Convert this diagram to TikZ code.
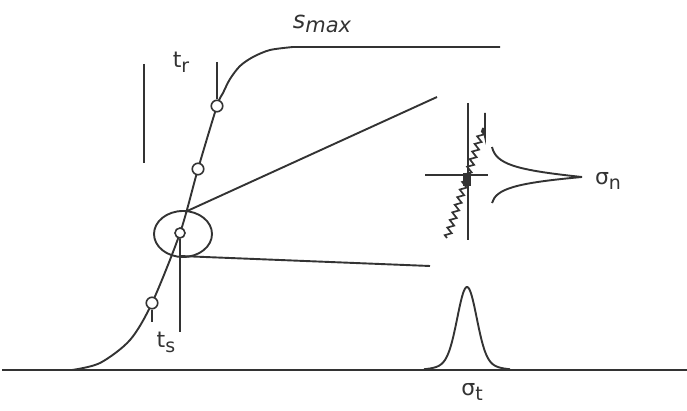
\documentclass[tikz,border=0pt]{standalone}
\usepackage{fontspec}
\setmainfont{DejaVu Sans}
\usetikzlibrary{shapes.geometric,decorations.pathmorphing}
\definecolor{ink}{HTML}{333333}
\newcommand\sublab[2]{#1\raisebox{-0.42ex}{\fontsize{19}{19}\selectfont #2}}
\begin{document}
\begin{tikzpicture}[x=1pt,y=-1pt,
  ln/.style={draw=ink,line width=1.9pt},
  dotc/.style={circle,draw=ink,fill=white,line width=1.6pt,inner sep=0pt,minimum size=11.5pt},
  lab/.style={text=ink,font=\fontsize{22}{22}\selectfont,inner sep=0pt}]
\useasboundingbox (0,0) rectangle (687,411);
% baseline
\coordinate (b0) at (2,370);
\coordinate (b1) at (687,370);
\draw[ln,line width=2.4pt] (b0) -- (b1);
% S-curve
\coordinate (k0) at (72,370);
\coordinate (k1) at (100,363);
\coordinate (k2) at (130,340);
\coordinate (k3) at (152,303);
\coordinate (k4) at (180,233);
\coordinate (k5) at (198,169);
\coordinate (k6) at (217,106);
\coordinate (k7) at (223,93);
\coordinate (k8) at (230,79);
\coordinate (k9) at (240,66);
\coordinate (k10) at (253,57);
\coordinate (k11) at (270,50);
\coordinate (k12) at (293,47);
\coordinate (k13) at (500,47);
\draw[ln] plot[smooth,tension=0.5] coordinates {(k0) (k1) (k2) (k3) (k4) (k5) (k6) (k7) (k8) (k9) (k10) (k11) (k12)} -- (k13);
% ellipse
\node (E) [ellipse,draw=ink,line width=1.9pt,inner sep=0pt,minimum width=58pt,minimum height=46pt] at (183,234) {};
% lines from ellipse
\coordinate (u0) at (185,212);
\coordinate (u1) at (437,97);
\draw[ln] (u0) -- (u1);
\coordinate (l0) at (180,256);
\coordinate (l1) at (430,266);
\draw[ln] (l0) -- (l1);
% vertical lines
\coordinate (v0) at (144,64);
\coordinate (v1) at (144,163);
\draw[ln,line width=2.2pt] (v0) -- (v1);
\coordinate (tr0) at (217,62);
\coordinate (ts1) at (152,322);
\coordinate (e1) at (180,332);
% circles
\node (c1) [dotc] at (k3) {};
\node (c2) [dotc,minimum size=10pt] at (k4) {};
\node (c3) [dotc] at (k5) {};
\node (c4) [dotc] at (k6) {};
\draw[ln] (tr0) -- (c4.north);
\draw[ln] (c1.south) -- (ts1);
\draw[ln] (c2.south) -- (e1);
% detail at right
\coordinate (h0) at (425,175);
\coordinate (h1) at (488,175);
\coordinate (w0) at (468,103);
\coordinate (w1) at (468,240);
\draw[ln] (h0) -- (h1);
\draw[ln] (w0) -- (w1);
\coordinate (z0) at (447,238);
\coordinate (z1) at (483,128);
\coordinate (z2) at (485,113);
\draw[ln,line width=1.7pt,decorate,decoration={zigzag,segment length=8pt,amplitude=3pt}] (z0) -- (z1);
\draw[ln,line width=1.7pt] (z1) -- (485,137) -- (z2);
\node (sq) [fill=ink,inner sep=0pt,minimum width=8pt,minimum height=13pt] at (467,180) {};
% cusp
\coordinate (p0) at (492,147);
\coordinate (p1) at (582,177);
\coordinate (p2) at (492,203);
\draw[ln] (p0) .. controls (496,164) and (515,170) .. (p1) .. controls (515,183) and (496,189) .. (p2);
% gaussian with slightly heavier tails
\draw[ln] plot[domain=424:510,samples=100] (\x,{370-83*(0.88*exp(-((\x-467)*(\x-467))/(2*9.5*9.5))+0.12*exp(-((\x-467)*(\x-467))/(2*19*19)))});
% labels
\node (smax) [lab,font=\fontsize{24}{24}\selectfont\itshape] at (322,24) {s\raisebox{-0.35ex}{\fontsize{21}{21}\selectfont max}};
\node (tr) [lab] at (181,62) {\sublab{t}{r}};
\node (ts) [lab] at (166,342) {\sublab{t}{s}};
\node (sn) [lab] at (608,181) {\sublab{σ}{n}};
\node (st) [lab] at (472,392) {\sublab{σ}{t}};
\end{tikzpicture}
\end{document}
